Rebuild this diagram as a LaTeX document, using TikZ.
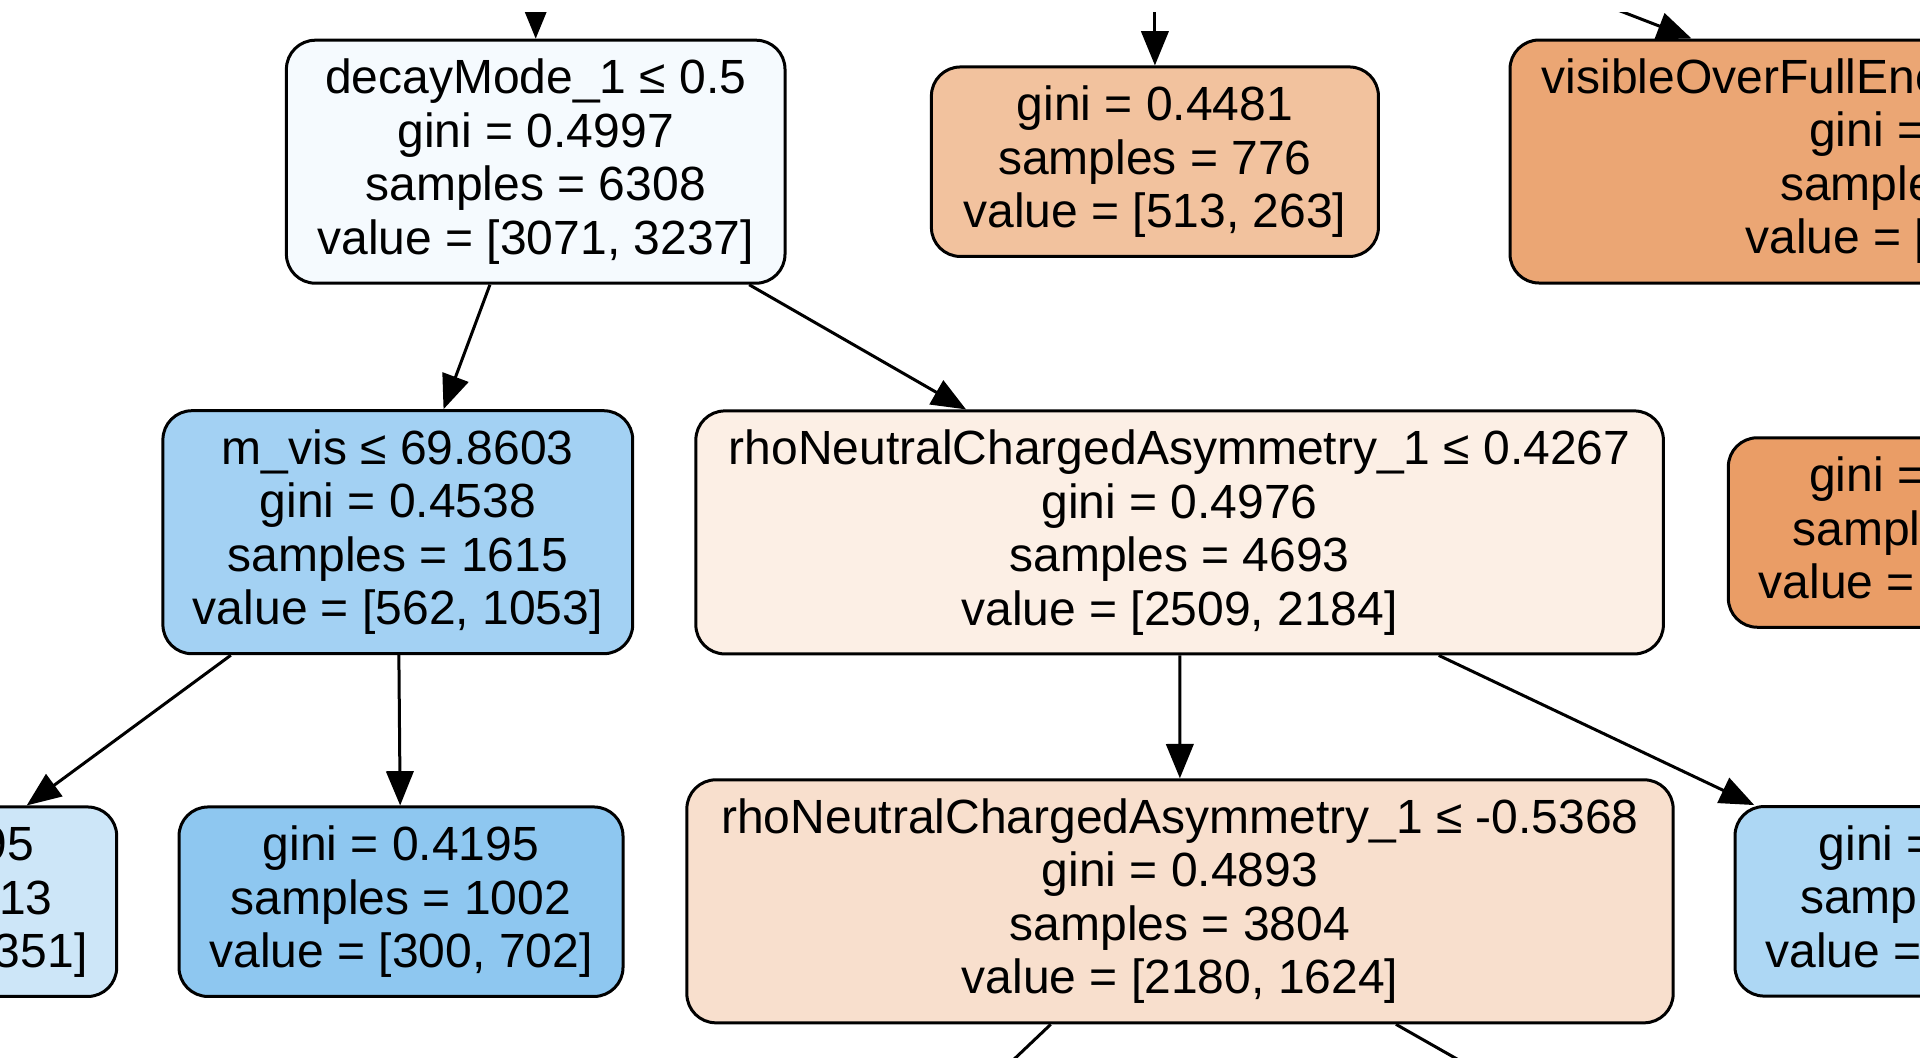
\documentclass[tikz,border=0pt]{standalone}
\usepackage{fontspec}
\setmainfont{Liberation Sans}
\usetikzlibrary{arrows.meta,calc}
\definecolor{cA}{RGB}{245,250,254}
\definecolor{cB}{RGB}{242,194,158}
\definecolor{cC}{RGB}{235,166,116}
\definecolor{cD}{RGB}{163,209,243}
\definecolor{cE}{RGB}{252,239,229}
\definecolor{cF}{RGB}{234,157,102}
\definecolor{cG}{RGB}{205,230,248}
\definecolor{cH}{RGB}{142,199,240}
\definecolor{cI}{RGB}{248,223,205}
\definecolor{cJ}{RGB}{173,215,244}
\newcommand\nodefont{\fontsize{14.4pt}{16.05pt}\selectfont}
\begin{document}
\begin{tikzpicture}[x=0.3pt,y=-0.3pt,
  treenode/.style={draw=black, line width=0.9pt, rounded corners=8.7pt, inner sep=0pt,
    align=center, font=\nodefont, text=black},
  tall/.style={minimum height=72.9pt},
  short/.style={minimum height=56.85pt},
  lbl/.style={font=\nodefont, inner sep=0pt, anchor=base west, text=black},
  edge/.style={line width=0.9pt, draw=black, -{Triangle[length=10.3pt,width=8.2pt]}},
  plain/.style={line width=0.9pt, draw=black}]
\fill[white] (0,0) rectangle (1920,1057);
\useasboundingbox (0,0) rectangle (1920,1057);
\clip (0,12) rectangle (1920,1057);

% row 1
\node[treenode, tall, fill=cA, minimum width=498.6*0.3pt] (A) at (535.7,161.7)
  {decayMode\_1 ≤ 0.5\\gini = 0.4997\\samples = 6308\\value = [3071, 3237]};
\node[treenode, short, fill=cB, minimum width=447*0.3pt] (B) at (1154.9,161.7)
  {gini = 0.4481\\samples = 776\\value = [513, 263]};
\node[treenode, tall, fill=cC, minimum width=876*0.3pt] (C) at (1948,161.5) {};
\node[lbl] (c1) at (1541,93) {visibleOverFullEnergy};
\node[lbl] (c2) at (1808.4,146.5) {gini =};
\node[lbl] (c3) at (1779.5,200) {samples};
\node[lbl] (c4) at (1744.7,253.5) {value = [};

% row 2
\node[treenode, tall, fill=cD, minimum width=469.8*0.3pt] (D) at (397.8,532.2)
  {m\_vis ≤ 69.8603\\gini = 0.4538\\samples = 1615\\value = [562, 1053]};
\node[treenode, tall, fill=cE, minimum width=967.5*0.3pt] (E) at (1179.6,532.4)
  {rhoNeutralChargedAsymmetry\_1 ≤ 0.4267\\gini = 0.4976\\samples = 4693\\value = [2509, 2184]};
\node[treenode, short, fill=cF, minimum width=439.4*0.3pt] (F) at (1948,532.5) {};
\node[lbl] (f1) at (1808.4,491.5) {gini =};
\node[lbl] (f2) at (1791.8,545) {samples};
\node[lbl] (f3) at (1758,598.5) {value =};

% row 3
\node[treenode, short, fill=cG, minimum width=441.4*0.3pt] (G) at (-104,901.7)
  {gini = 0.4895\\samples = 613\\value = [262, 351]};
\node[treenode, short, fill=cH, minimum width=444*0.3pt] (H) at (401,901.7)
  {gini = 0.4195\\samples = 1002\\value = [300, 702]};
\node[treenode, tall, fill=cI, minimum width=986.3*0.3pt] (I) at (1180,901.3)
  {rhoNeutralChargedAsymmetry\_1 ≤ -0.5368\\gini = 0.4893\\samples = 3804\\value = [2180, 1624]};
\node[treenode, short, fill=cJ, minimum width=444*0.3pt] (J) at (1957,901.3)
  {gini = 0.4662\\samples = 889\\value = [329, 560]};

% incoming edges from above the frame
\coordinate (inA) at (535.7,-20);
\coordinate (inB) at (1154.9,-20);
\coordinate (inC) at (1540,-20);
\draw[edge] (inA) -- (A.north);
\draw[edge] (inB) -- (B.north);
\draw[edge] (inC) -- ($(C.north west)+(183,0)$);

% tree edges
\draw[edge] (A) -- (D);
\draw[edge] (A) -- (E);
\draw[edge] (D) -- (G);
\draw[edge] (D) -- (H);
\draw[edge] (E) -- (I);
\draw[edge] (E) -- (J);

% outgoing edges below the frame
\coordinate (il) at (791,1271);
\coordinate (ir) at (1830,1271);
\draw[plain] (I) -- (il);
\draw[plain] (I) -- (ir);
\end{tikzpicture}
\end{document}
